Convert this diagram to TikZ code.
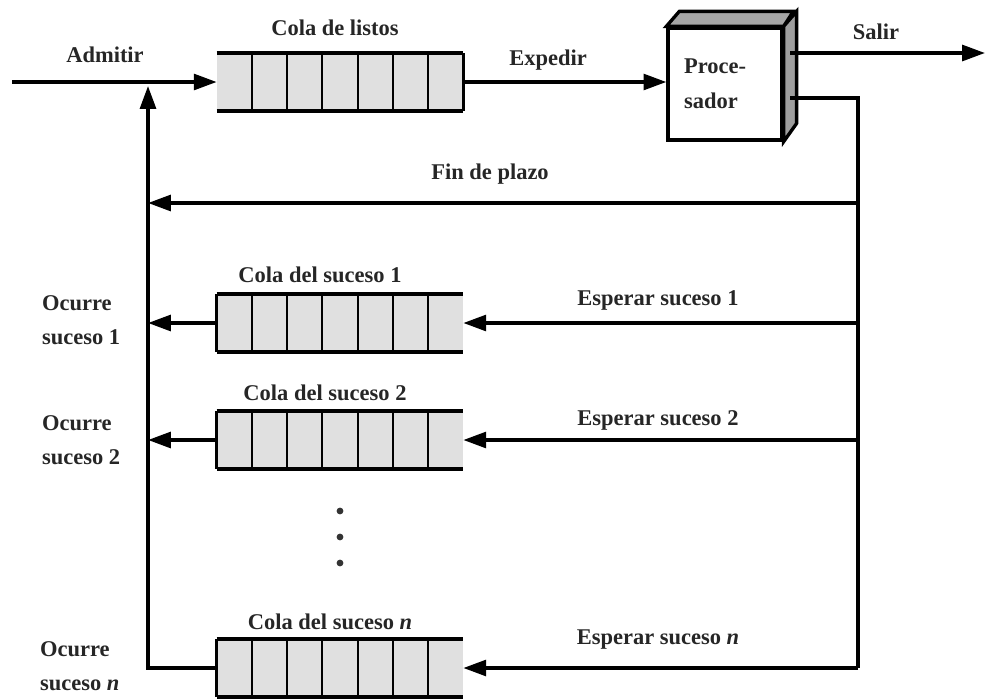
\documentclass[tikz,border=0pt]{standalone}
\usepackage{fontspec}
\setmainfont{Liberation Serif}
\usetikzlibrary{arrows.meta,positioning,calc}

\tikzset{
  lbl/.style={font=\bfseries\fontsize{12.8}{19}\selectfont, text=black!85, inner sep=1pt},
  wire/.style={line width=1.9pt},
  flow/.style={wire, -{Triangle[length=13pt,width=9pt]}},
  cola/.style={fill=black!12, draw=none, minimum width=4.92cm, minimum height=1.14cm, inner sep=0pt},
  cpu/.style={draw, wire, fill=white, minimum width=2.28cm, minimum height=2.24cm,
    text width=1.64cm, inner xsep=0.32cm, align=left, font=\bfseries\fontsize{12.8}{20}\selectfont, text=black!85},
}
% cells and long edges of a queue
\newcommand{\celdas}[1]{%
  \foreach \k in {1,...,6}
    \draw[line width=1.1pt] ($(#1.north west)!\k/7!(#1.north east)$) -- ($(#1.south west)!\k/7!(#1.south east)$);
  \draw[wire] (#1.north west) -- (#1.north east) (#1.south west) -- (#1.south east);
}

\begin{document}
\begin{tikzpicture}[x=0.02cm, y=-0.02cm]
    \useasboundingbox (0,0) rectangle (985,700);
    % Queues
    \node[cola] (listos) at (340,82) {};
    \node[cola] (suc1) at (340,323) {};
    \node[cola] (suc2) at (340,440) {};
    \node[cola] (sucn) at (340,668) {};
    \celdas{listos}
    \draw[wire] (listos.north east) -- (listos.south east);
    \foreach \q in {suc1,suc2,sucn} {
      \celdas{\q}
      \draw[wire] (\q.north west) -- (\q.south west);
    }
    \foreach \y in {511,537,563}
      \fill[black!80] (340,\y) circle (3.4);
    % Processor
    \node[cpu] (proc) at (725,84) {Proce-\\sador};
    \draw[wire, fill=black!35] (proc.north west) -- ++(13,-15) -- ++(114,0) -- (proc.north east) -- cycle;
    \draw[wire, fill=black!38] (proc.north east) -- ++(13,-15) -- ++(0,112) -- (proc.south east) -- cycle;
    % Points
    \coordinate (entrada) at (12,82);
    \coordinate (salida) at (985,53);
    \coordinate (p1) at (790,53);
    \coordinate (p2) at (790,98);
    \coordinate (bus) at (858,203);
    \coordinate (ret) at (148,86);
    % Connectors
    \draw[flow] (entrada) -- (listos.west);
    \draw[flow] (listos.east) -- (listos.east -| proc.west);
    \draw[flow] (p1) -- (salida);
    \draw[wire] (p2) -| (sucn.east -| bus);
    \draw[flow] (bus) -- (bus -| ret);
    \draw[flow] (sucn.west) -| (ret);
    \foreach \q in {suc1,suc2} {
      \draw[flow] (\q.west) -- (\q.west -| ret);
      \draw[flow] (\q.east -| bus) -- (\q.east);
    }
    \draw[flow] (sucn.east -| bus) -- (sucn.east);
    % Labels
    \node[lbl] at (105,55) {Admitir};
    \node[lbl] at (335,28) {Cola de listos};
    \node[lbl] at (548,60) {Expedir};
    \node[lbl] at (876,32) {Salir};
    \node[lbl] at (490,174) {Fin de plazo};
    \node[lbl] at (320,275) {Cola del suceso 1};
    \node[lbl] at (325,393) {Cola del suceso 2};
    \node[lbl] at (330,622) {Cola del suceso \textit{n}};
    \node[lbl] at (658,300) {Esperar suceso 1};
    \node[lbl] at (658,420) {Esperar suceso 2};
    \node[lbl] at (658,640) {Esperar suceso \textit{n}};
    \node[lbl, align=left, anchor=west] at (40,320) {Ocurre\\suceso 1};
    \node[lbl, align=left, anchor=west] at (40,440) {Ocurre\\suceso 2};
    \node[lbl, align=left, anchor=west] at (38,666) {Ocurre\\suceso \textit{n}};
\end{tikzpicture}
\end{document}
